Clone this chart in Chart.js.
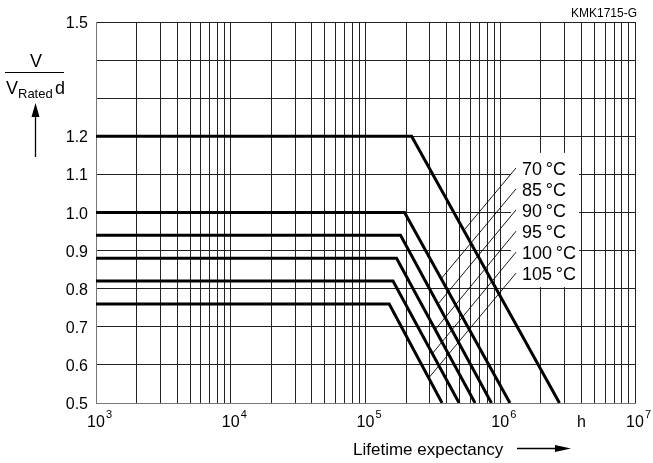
<!DOCTYPE html>
<html>
<head>
<meta charset="utf-8">
<script src="https://cdn.jsdelivr.net/npm/chart.js@4/dist/chart.umd.min.js"></script>
<style>
  body { margin: 0; background: #fff; }
  #wrap { width: 653px; height: 463px; }
</style>
</head>
<body>
<div id="wrap"><canvas id="chart-life" width="653" height="463"></canvas></div>
<script>
// curves: V/VRated vs lifetime (h), one per temperature
const temps = ['70', '85', '90', '95', '100', '105'];
const voltRatio = [1.2, 1.0, 0.94, 0.88, 0.82, 0.76];
const kneeHours = [2.2e5, 1.95e5, 1.82e5, 1.7e5, 1.6e5, 1.5e5];
const endHours = [2.75e6, 1.18e6, 8.6e5, 6.5e5, 4.95e5, 3.7e5];

// leader lines from the temperature labels to their curve
const leaderFromHours = 1.31e6;
const leaderFromV = [1.117, 1.062, 1.007, 0.951, 0.896, 0.841];
const leaderToHours = [5.4e5, 3.64e5, 3.46e5, 3.28e5, 3.14e5, 2.95e5];
const leaderToV = [0.954, 0.826, 0.76, 0.692, 0.63, 0.566];

const xMin = 1e3, xMax = 1e7;
const yMin = 0.5, yMax = 1.5;
const xDecades = [3, 4, 5, 6, 7];
const yTickLabels = [0.5, 0.6, 0.7, 0.8, 0.9, 1.0, 1.1, 1.2, 1.5];
const unitHours = 4e6;

var xGrid = [];
for (var e = 3; e < 7; e++) {
    for (var m = 1; m < 10; m++) xGrid.push(m * Math.pow(10, e));
}
xGrid.push(1e7);

var datasets = [];
temps.forEach(function(t, i) {
    datasets.push({
        label: t + ' °C',
        data: [
            {x: xMin, y: voltRatio[i]},
            {x: kneeHours[i], y: voltRatio[i]},
            {x: endHours[i], y: yMin}
        ],
        borderColor: '#000',
        borderWidth: 3,
        pointRadius: 0,
        borderJoinStyle: 'miter',
        tension: 0
    });
    datasets.push({
        label: 'leader ' + t,
        data: [
            {x: leaderFromHours, y: leaderFromV[i]},
            {x: leaderToHours[i], y: leaderToV[i]}
        ],
        borderColor: '#000',
        borderWidth: 0.9,
        pointRadius: 0,
        tension: 0
    });
});

const FONT = '"Liberation Sans", Arial, Helvetica, sans-serif';

// white patch behind the temperature labels (grid is hidden there)
const labelBox = {
    id: 'labelBox',
    beforeDatasetsDraw: function(chart) {
        var c = chart.ctx, xs = chart.scales.x, ys = chart.scales.y;
        var px = xs.getPixelForValue(leaderFromHours);
        var top = ys.getPixelForValue(leaderFromV[0]) - 15;
        var bottom = ys.getPixelForValue(leaderFromV[leaderFromV.length - 1]) + 14;
        c.save();
        c.fillStyle = '#fff';
        c.fillRect(px - 5, top, 68, bottom - top);
        c.restore();
    }
};

const textPlugin = {
    id: 'texts',
    afterDraw: function(chart) {
        var c = chart.ctx, xs = chart.scales.x, ys = chart.scales.y;
        c.save();
        c.fillStyle = '#000';
        c.strokeStyle = '#000';

        // y tick labels
        c.font = '16px ' + FONT;
        c.textAlign = 'right';
        c.textBaseline = 'alphabetic';
        yTickLabels.forEach(function(v) {
            c.fillText(v.toFixed(1), 88, ys.getPixelForValue(v) + 6);
        });

        // x tick labels 10^n
        xDecades.forEach(function(n) {
            var px = xs.getPixelForValue(Math.pow(10, n));
            c.font = '16px ' + FONT;
            c.textAlign = 'center';
            c.fillText('10', px, 427);
            var w = c.measureText('10').width;
            c.font = '11px ' + FONT;
            c.textAlign = 'left';
            c.fillText(String(n), px + w / 2 + 1, 418);
        });

        // unit h
        c.font = '16px ' + FONT;
        c.textAlign = 'center';
        c.fillText('h', xs.getPixelForValue(unitHours), 427);

        // x title + arrow
        c.font = '17px ' + FONT;
        c.textAlign = 'left';
        c.fillText('Lifetime expectancy', 353, 455);
        c.lineWidth = 1.3;
        c.beginPath();
        c.moveTo(517, 448.5);
        c.lineTo(558, 448.5);
        c.stroke();
        c.beginPath();
        c.moveTo(571, 448.5);
        c.lineTo(555, 445);
        c.lineTo(555, 452);
        c.closePath();
        c.fill();

        // y title as fraction
        c.font = '18px ' + FONT;
        c.textAlign = 'center';
        c.fillText('V', 36, 67);
        c.lineWidth = 1;
        c.beginPath();
        c.moveTo(5, 72.5);
        c.lineTo(64, 72.5);
        c.stroke();
        c.textAlign = 'left';
        c.fillText('V', 6, 94);
        c.font = '13px ' + FONT;
        c.fillText('Rated', 18, 98);
        c.font = '18px ' + FONT;
        c.fillText('d', 55, 94);

        // up arrow
        c.lineWidth = 1.3;
        c.beginPath();
        c.moveTo(35.5, 114);
        c.lineTo(35.5, 157);
        c.stroke();
        c.beginPath();
        c.moveTo(35.5, 103);
        c.lineTo(31.5, 117);
        c.lineTo(39.5, 117);
        c.closePath();
        c.fill();

        // code
        c.font = '12px ' + FONT;
        c.textAlign = 'right';
        c.fillText('KMK1715-G', 637, 17);

        // temperature labels
        c.font = '18px ' + FONT;
        c.textAlign = 'left';
        temps.forEach(function(t, i) {
            var px = xs.getPixelForValue(leaderFromHours);
            var py = ys.getPixelForValue(leaderFromV[i]);
            c.fillText(t + '\u2009°C', px + 6, py + 7);
        });
        c.restore();
    }
};

var ctx = document.getElementById('chart-life');
const lifeChart = new Chart(ctx, {
    type: 'line',
    data: { datasets: datasets },
    options: {
        responsive: false,
        animation: false,
        events: [],
        layout: {
            padding: { left: 96, top: 22, right: 18, bottom: 60 }
        },
        plugins: {
            legend: { display: false },
            tooltip: { enabled: false }
        },
        scales: {
            x: {
                type: 'logarithmic',
                min: xMin,
                max: xMax,
                afterBuildTicks: function(scale) {
                    scale.ticks = xGrid.map(function(v) { return {value: v}; });
                },
                ticks: { display: false },
                grid: { color: '#222', lineWidth: 1, drawTicks: false },
                border: { color: '#777', width: 1 }
            },
            y: {
                type: 'linear',
                min: yMin,
                max: yMax,
                ticks: { display: false, stepSize: 0.1 },
                grid: { color: '#222', lineWidth: 1, drawTicks: false },
                border: { color: '#777', width: 1 }
            }
        }
    },
    plugins: [labelBox, textPlugin]
});
</script>
</body>
</html>
